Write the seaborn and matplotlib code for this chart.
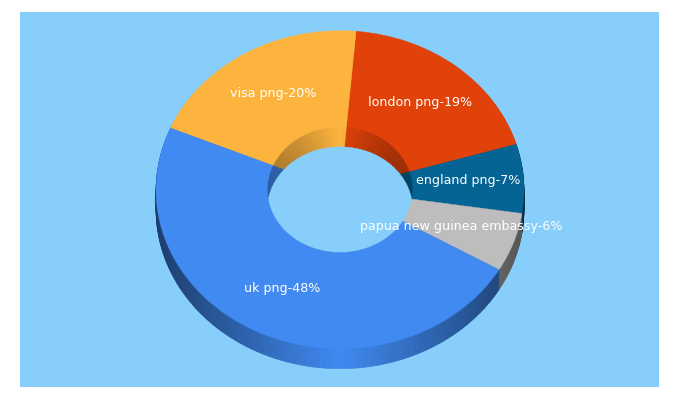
import matplotlib
matplotlib.use("Agg")
import matplotlib.pyplot as plt
import numpy as np
import seaborn as sns

# donnees du graphique, dans le sens des aiguilles depuis le haut
labels = ["london png-19%", "england png-7%", "papua new guinea embassy-6%",
          "uk png-48%", "visa png-20%"]
values = [19, 7, 6, 48, 20]
hex_colors = ["#E14209", "#056493", "#BDBDBD", "#408AF2", "#FDB43F"]
background = "#87CEFB"

# position du texte, en pixels de l'image
label_px_x = [420, 468, 461, 282, 273]
label_px_y = [103.5, 181.5, 227.5, 289.5, 94.5]

# geometrie du donut, en pixels
cx, cy = 340, 190.7
rx, ry = 184, 159
depth = 20
hole = 0.395
start = 85

sns.set_theme(style="white")
palette = sns.color_palette(hex_colors)


def to_data(px, py):
    return (px - cx) / rx, (cy - py) / ry


def shaded_parts(strength, step=2.0):
    # decoupe chaque part en petits morceaux, assombris vers les bords
    parts, colors = [], []
    angle = start
    for val, col in zip(values, palette):
        n = max(int(val * 3.6 / step), 1)
        for i in range(n):
            mid = angle - (i + 0.5) * val * 3.6 / n
            f = 1 - strength * abs(np.cos(np.radians(mid)))
            parts.append(val / n)
            colors.append(tuple(c * f for c in col))
        angle -= val * 3.6
    return parts, colors


def pie_layer(vals, cols, lw=0.4, **kwargs):
    wedges, _ = ax.pie(vals, colors=cols, startangle=start, counterclock=False, **kwargs)
    for w in wedges:
        w.set_edgecolor(w.get_facecolor())  # pas de joint visible entre les morceaux
        w.set_linewidth(lw)


fig = plt.figure(figsize=(6.8, 4.0), dpi=100, facecolor="white")
ax = fig.add_axes([20 / 680, 13 / 400, 639 / 680, 375 / 400])

# flanc exterieur
parts, colors = shaded_parts(0.55)
for d in range(depth, 0, -1):
    pie_layer(parts, colors, radius=1, center=(0, -d / ry))

# paroi interieure du trou
parts, colors = shaded_parts(0.32)
for d in range(depth, -1, -1):
    pie_layer(parts, colors, radius=hole, center=(0, -d / ry))

# fond du trou
pie_layer([1], [background], radius=hole, center=(0, -depth / ry))

# dessus du donut
pie_layer(values, palette, lw=0.3, radius=1, wedgeprops=dict(width=1 - hole))

for txt, px, py in zip(labels, label_px_x, label_px_y):
    x, y = to_data(px, py)
    ax.text(x, y, txt, color="white", fontsize=9.05, ha="center", va="center",
            family="DejaVu Sans")

# axes deformes pour obtenir l'ellipse
ax.set_aspect("auto")
ax.set_xlim(to_data(20, 0)[0], to_data(659, 0)[0])
ax.set_ylim(to_data(0, 388)[1], to_data(0, 13)[1])
ax.set_frame_on(True)
ax.set_facecolor(background)
sns.despine(ax=ax, left=True, bottom=True)
ax.set_xticks([])
ax.set_yticks([])

fig.savefig("out.png", dpi=100)
